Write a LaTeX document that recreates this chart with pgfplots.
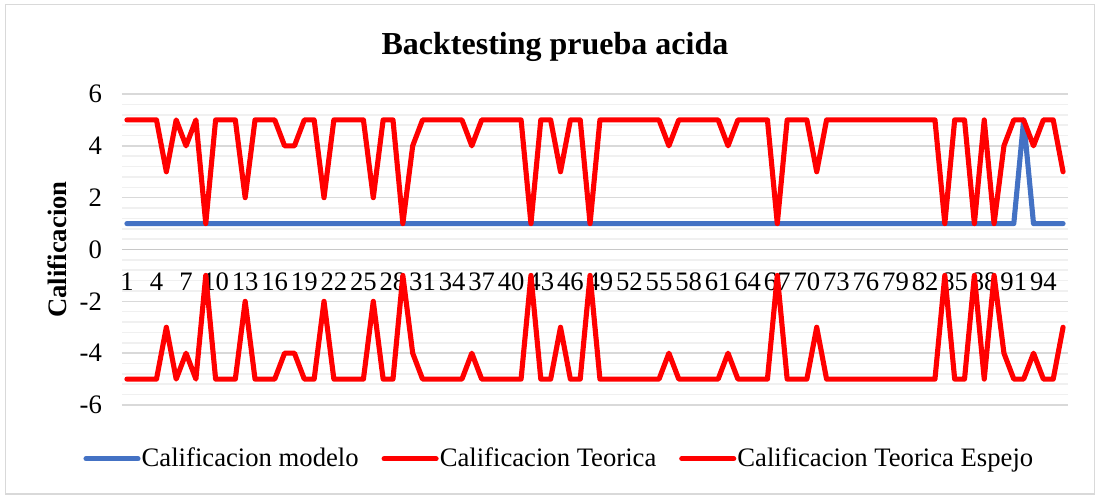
\documentclass[border=0pt]{standalone}
\usepackage{fontspec}
\setmainfont{Liberation Serif}
\usepackage{pgfplots}
\usepackage{pgfplotstable}
\pgfplotsset{compat=1.18}
\definecolor{blueM}{HTML}{4472C4}
\definecolor{redT}{HTML}{FF0000}
\definecolor{gridM}{HTML}{D9D9D9}
\definecolor{gridm}{HTML}{F0F0F0}
\definecolor{axisC}{HTML}{C8C8C8}

\pgfplotstableread{
x m t e
1 1 5 -5
2 1 5 -5
3 1 5 -5
4 1 5 -5
5 1 3 -3
6 1 5 -5
7 1 4 -4
8 1 5 -5
9 1 1 -1
10 1 5 -5
11 1 5 -5
12 1 5 -5
13 1 2 -2
14 1 5 -5
15 1 5 -5
16 1 5 -5
17 1 4 -4
18 1 4 -4
19 1 5 -5
20 1 5 -5
21 1 2 -2
22 1 5 -5
23 1 5 -5
24 1 5 -5
25 1 5 -5
26 1 2 -2
27 1 5 -5
28 1 5 -5
29 1 1 -1
30 1 4 -4
31 1 5 -5
32 1 5 -5
33 1 5 -5
34 1 5 -5
35 1 5 -5
36 1 4 -4
37 1 5 -5
38 1 5 -5
39 1 5 -5
40 1 5 -5
41 1 5 -5
42 1 1 -1
43 1 5 -5
44 1 5 -5
45 1 3 -3
46 1 5 -5
47 1 5 -5
48 1 1 -1
49 1 5 -5
50 1 5 -5
51 1 5 -5
52 1 5 -5
53 1 5 -5
54 1 5 -5
55 1 5 -5
56 1 4 -4
57 1 5 -5
58 1 5 -5
59 1 5 -5
60 1 5 -5
61 1 5 -5
62 1 4 -4
63 1 5 -5
64 1 5 -5
65 1 5 -5
66 1 5 -5
67 1 1 -1
68 1 5 -5
69 1 5 -5
70 1 5 -5
71 1 3 -3
72 1 5 -5
73 1 5 -5
74 1 5 -5
75 1 5 -5
76 1 5 -5
77 1 5 -5
78 1 5 -5
79 1 5 -5
80 1 5 -5
81 1 5 -5
82 1 5 -5
83 1 5 -5
84 1 1 -1
85 1 5 -5
86 1 5 -5
87 1 1 -1
88 1 5 -5
89 1 1 -1
90 1 4 -4
91 1 5 -5
92 5 5 -5
93 1 4 -4
94 1 5 -5
95 1 5 -5
96 1 3 -3
}\data

\begin{document}
\begin{tikzpicture}
\useasboundingbox (0,0) rectangle (493.2pt,-222.75pt);
\draw[gridM, line width=0.7pt] (2.4pt,-2pt) rectangle (492.6pt,-222.2pt);
\begin{axis}[
  at={(54.9pt,-182.25pt)}, anchor=south west,
  scale only axis, width=425.7pt, height=139.95pt,
  xmin=0.5, xmax=96.5, ymin=-6, ymax=6,
  axis x line*=middle, axis y line*=left,
  x axis line style={draw=axisC, line width=0.7pt, -},
  y axis line style={draw=none},
  hide obscured x ticks=false, hide obscured y ticks=false,
  xtick={1,4,...,94}, ytick={-6,-4,...,6},
  minor y tick num=4,
  ymajorgrids, yminorgrids,
  major grid style={draw=gridM, line width=0.7pt},
  minor grid style={draw=gridm, line width=0.7pt},
  major tick length=0pt, minor tick length=0pt,
  /pgf/number format/assume math mode=true,
  tick label style={font=\fontsize{12}{14}\selectfont},
  xticklabel style={anchor=base, yshift=-18.4pt},
  yticklabel style={anchor=east, xshift=-5.5pt},
  title={Backtesting prueba acida},
  title style={at={(axis description cs:0.4577,1.0836)}, anchor=base, font=\fontsize{14.4}{17}\selectfont\bfseries},
  ylabel={Calificacion},
  ylabel style={at={(axis description cs:-0.0687,0.5)}, anchor=center, font=\fontsize{12}{14}\selectfont\bfseries},
  legend columns=3,
  legend cell align=left,
  legend style={at={(axis description cs:-0.0412,-0.173)}, anchor=west, draw=none, fill=none, inner sep=0pt,
    font=\fontsize{12}{14}\selectfont,
    /tikz/every odd column/.append style={column sep=-1.5pt},
    /tikz/every even column/.append style={column sep=8.3pt}},
  legend image code/.code={\draw[#1, line cap=round] (0pt,0pt) -- (23.4pt,0pt);},
  every axis plot/.append style={line width=2.3pt, line join=round, line cap=round},
]
\addplot[blueM] table[x=x, y=m] {\data};
\addlegendentry{Calificacion modelo}
\addplot[redT] table[x=x, y=t] {\data};
\addlegendentry{Calificacion Teorica}
\addplot[redT] table[x=x, y=e] {\data};
\addlegendentry{Calificacion Teorica Espejo}
\end{axis}
\end{tikzpicture}
\end{document}
